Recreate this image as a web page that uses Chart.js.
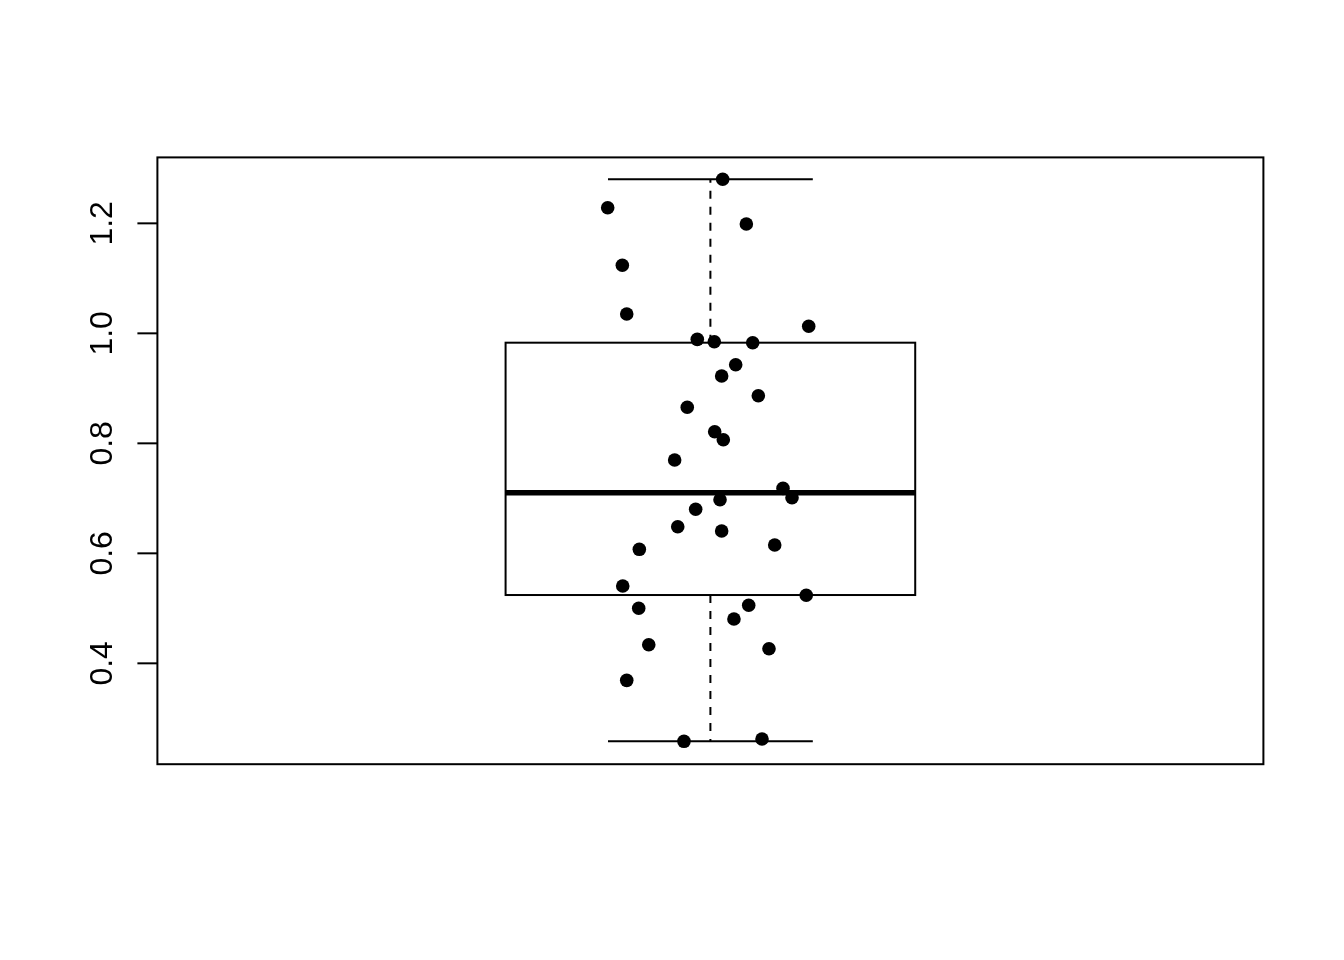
<!DOCTYPE html>
<html>
<head>
<meta charset="utf-8">
<script src="https://cdn.jsdelivr.net/npm/chart.js@4/dist/chart.umd.min.js"></script>
<style>
  html, body { margin: 0; padding: 0; background: #ffffff; }
  canvas { display: block; }
</style>
</head>
<body>
<canvas id="c" width="1344" height="960"></canvas>
<script>
// Jittered x positions (group centre = 1)
const jitterX = [1.0120, 0.8997, 1.0351, 0.9140, 0.9183, 1.0960, 0.9872, 1.0038, 1.0413, 1.0247,
                 1.0110, 1.0468, 0.9774, 1.0042, 1.0126, 0.9651, 1.0709, 1.0797, 1.0094, 0.9856,
                 0.9681, 1.0110, 0.9306, 1.0628, 0.9144, 1.0936, 0.9300, 1.0374, 1.0230, 0.9398,
                 1.0572, 0.9183, 1.0504, 0.9742];
// Observed values
const values = [1.2801, 1.2284, 1.1988, 1.1237, 1.0351, 1.0128, 0.9891, 0.9848, 0.9830, 0.9430,
                0.9224, 0.8866, 0.8655, 0.8211, 0.8066, 0.7697, 0.7182, 0.7011, 0.6975, 0.6801,
                0.6484, 0.6406, 0.6073, 0.6151, 0.5406, 0.5237, 0.5001, 0.5055, 0.4806, 0.4339,
                0.4266, 0.3691, 0.2624, 0.2582];
// Box statistics: lower whisker, Q1, median, Q3, upper whisker
const boxStats = [0.2582, 0.5242, 0.7102, 0.9830, 1.2801];
// Y tick values and labels
const yTicks = [0.4, 0.6, 0.8, 1.0, 1.2];
const yTickLabels = ["0.4", "0.6", "0.8", "1.0", "1.2"];

const points = jitterX.map((x, i) => ({ x: x, y: values[i] }));

const boxPlugin = {
  id: 'boxPlugin',
  beforeDatasetsDraw(chart) {
    const ctx = chart.ctx;
    const xs = chart.scales.x, ys = chart.scales.y;
    const [lo, q1, med, q3, hi] = boxStats;
    const xc = xs.getPixelForValue(1);
    const bl = xs.getPixelForValue(0.8), br = xs.getPixelForValue(1.2);
    const cl = xs.getPixelForValue(0.9), cr = xs.getPixelForValue(1.1);
    const yLo = ys.getPixelForValue(lo), yQ1 = ys.getPixelForValue(q1);
    const yMed = ys.getPixelForValue(med), yQ3 = ys.getPixelForValue(q3);
    const yHi = ys.getPixelForValue(hi);
    ctx.save();
    ctx.strokeStyle = '#000';
    ctx.lineCap = 'butt';
    // whiskers (dashed)
    ctx.lineWidth = 2;
    ctx.setLineDash([8, 8]);
    ctx.beginPath();
    ctx.moveTo(xc, yQ3); ctx.lineTo(xc, yHi);
    ctx.moveTo(xc, yQ1); ctx.lineTo(xc, yLo);
    ctx.stroke();
    ctx.setLineDash([]);
    // caps
    ctx.beginPath();
    ctx.moveTo(cl, yHi); ctx.lineTo(cr, yHi);
    ctx.moveTo(cl, yLo); ctx.lineTo(cr, yLo);
    ctx.stroke();
    // box
    ctx.strokeRect(bl, yQ3, br - bl, yQ1 - yQ3);
    // median
    ctx.lineWidth = 5.5;
    ctx.beginPath();
    ctx.moveTo(bl, yMed); ctx.lineTo(br, yMed);
    ctx.stroke();
    ctx.restore();
  },
  afterDraw(chart) {
    const ctx = chart.ctx;
    const a = chart.chartArea;
    const ys = chart.scales.y;
    ctx.save();
    ctx.strokeStyle = '#000';
    ctx.lineWidth = 2;
    ctx.strokeRect(a.left, a.top, a.right - a.left, a.bottom - a.top);
    ctx.fillStyle = '#000';
    ctx.font = '32px "Liberation Sans", Arial, Helvetica, sans-serif';
    ctx.textAlign = 'center';
    ctx.textBaseline = 'alphabetic';
    yTicks.forEach((v, i) => {
      const y = ys.getPixelForValue(v);
      ctx.beginPath();
      ctx.moveTo(a.left - 20, y); ctx.lineTo(a.left, y);
      ctx.stroke();
      ctx.save();
      ctx.translate(112, y);
      ctx.rotate(-Math.PI / 2);
      ctx.fillText(yTickLabels[i], 0, 0);
      ctx.restore();
    });
    ctx.restore();
  }
};

new Chart(document.getElementById('c'), {
  type: 'scatter',
  data: {
    datasets: [{
      data: points,
      backgroundColor: '#000',
      borderColor: '#000',
      borderWidth: 0,
      pointRadius: 6.8,
      pointHoverRadius: 6.8
    }]
  },
  options: {
    responsive: false,
    animation: false,
    devicePixelRatio: 1,
    layout: { padding: { left: 157.4, right: 80.6, top: 157.4, bottom: 195.8 } },
    scales: {
      x: { type: 'linear', min: 0.46, max: 1.54, display: false },
      y: { type: 'linear', min: 0.2166, max: 1.3199, display: false }
    },
    plugins: { legend: { display: false }, tooltip: { enabled: false } },
    events: []
  },
  plugins: [boxPlugin]
});
</script>
</body>
</html>
